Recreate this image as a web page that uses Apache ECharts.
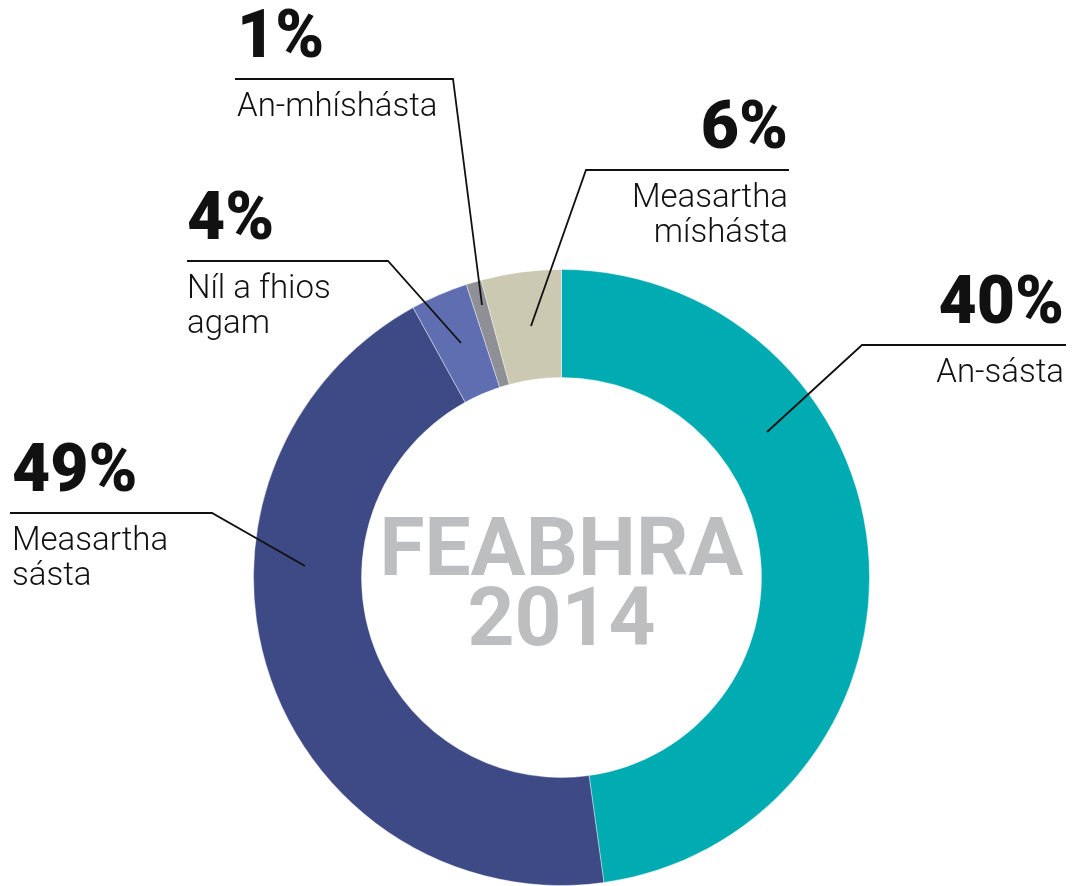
<!DOCTYPE html>
<html>
<head>
<meta charset="utf-8">
<style>
  html, body { margin: 0; padding: 0; background: #fff; }
  #chart { width: 1073px; height: 886px; }
</style>
<script src="https://cdn.jsdelivr.net/npm/echarts@6/dist/echarts.min.js"></script>
</head>
<body>
<div id="chart"></div>
<script>
// answers, clockwise from 12 o'clock
var categories = ['An-sásta', 'Measartha\nsásta', 'Níl a fhios\nagam', 'An-mhíshásta', 'Measartha\nmíshásta']
// slice sizes as drawn in the picture (share of the ring)
var sliceValues = [47.8, 44.2, 3.0, 0.8, 4.2]
// percentages as printed on the labels
var pctLabels = ['40%', '49%', '4%', '1%', '6%']
var colors = ['#00abb1', '#3d4a85', '#5f6db1', '#8e9096', '#cbc9b2']
var centerText = 'FEABHRA\n2014'

// leader lines: start inside the ring, elbow, end of the underline
var leaderLines = [
  [[767, 432], [862, 345], [1066, 345]],
  [[305, 566], [212, 513], [10, 513]],
  [[461, 343], [388, 261], [187, 261]],
  [[482, 305], [453, 79], [235, 79]],
  [[531, 326], [586, 170], [789, 170]]
]
var labelAlign = ['right', 'left', 'left', 'left', 'right']
var labelX = [1064, 12, 187, 237, 788]

var pieData = categories.map(function (c, i) {
  return { name: c, value: sliceValues[i] }
})

var chart = echarts.init(document.getElementById('chart'))

var ring = {
  type: 'pie',
  center: [561.5, 577.5],
  radius: [200, 308],
  startAngle: 90,
  clockwise: true,
  silent: true,
  emphasis: { disabled: true },
  itemStyle: { borderColor: '#ffffff', borderWidth: 0.4 },
  label: { show: false },
  labelLine: { show: false },
  data: pieData
}

// same slices again, invisible, on top: carries the labels so the leader lines sit over the ring
var labelPie = {
  type: 'pie',
  z: 5,
  center: [561.5, 577.5],
  radius: [200, 308],
  startAngle: 90,
  clockwise: true,
  silent: true,
  avoidLabelOverlap: false,
  emphasis: { disabled: true },
  itemStyle: { color: 'rgba(0,0,0,0)' },
  label: {
    show: true,
    position: 'outside',
    color: '#111',
    formatter: function (p) {
      var name = p.name.split('\n').map(function (s) {
        return '{n|' + s + '}'
      }).join('\n')
      return '{p|' + pctLabels[p.dataIndex] + '}\n' + name
    },
    rich: {
      p: {
        fontFamily: 'Roboto',
        fontWeight: 900,
        fontSize: 66,
        lineHeight: 100,
        color: '#111'
      },
      n: {
        fontFamily: 'Roboto',
        fontWeight: 300,
        fontSize: 33,
        lineHeight: 35,
        color: '#111'
      }
    }
  },
  labelLine: {
    show: true,
    lineStyle: { color: '#111', width: 1.8 }
  },
  labelLayout: function (params) {
    var i = params.dataIndex
    var pts = leaderLines[i]
    return {
      x: labelX[i],
      y: pts[2][1] - 89,
      align: labelAlign[i],
      verticalAlign: 'top',
      labelLinePoints: pts
    }
  },
  data: pieData
}

chart.setOption({
  animation: false,
  color: colors,
  series: [ring, labelPie],
  graphic: [{
    type: 'text',
    x: 561.5,
    y: 589,
    silent: true,
    style: {
      text: centerText,
      fontFamily: 'Roboto',
      fontWeight: 'bold',
      fontSize: 82,
      lineHeight: 70,
      fill: '#bcbec0',
      align: 'center',
      verticalAlign: 'middle'
    }
  }]
})
</script>
</body>
</html>
